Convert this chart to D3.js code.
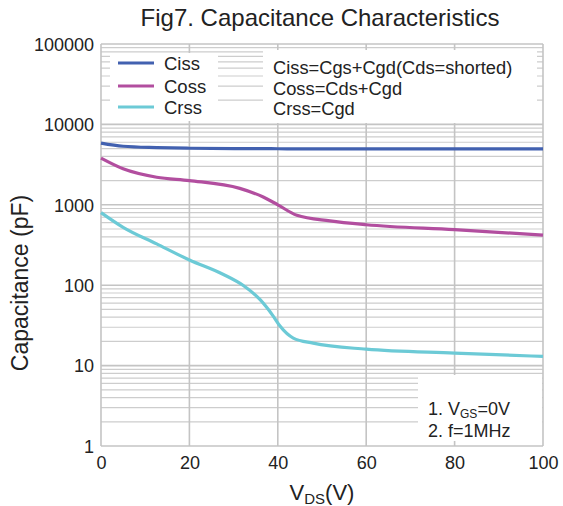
<!DOCTYPE html>
<html><head><meta charset="utf-8">
<script src="https://cdn.jsdelivr.net/npm/d3@7"></script>
<style>body{margin:0;background:#fff}svg{display:block;font-family:"Liberation Sans",Arial,sans-serif}</style>
</head><body>
<svg id="c" width="563" height="506"></svg>
<script>
const vds = [0,5,12.6,20,31.4,36.7,40,44.3,51.8,60,80,100];
const ciss = [5850,5350,5150,5050,5000,4990,4980,4970,4960,4950,4950,4950];
const coss = [3800,2800,2200,2000,1600,1250,1000,740,630,565,490,420];
const crssV = [0,5,12.6,20,27.7,32.2,36,39,40.5,43.5,48,60,80,100];
const crss = [800,525,326,206,136,99,66,41,31,22,19,16,14.3,13];
const xTicks = [0,20,40,60,80,100];
const yTicks = [1,10,100,1000,10000,100000];
const seriesNames = ["Ciss","Coss","Crss"];
const colors = ["#4261b0","#b24e9f","#6ccad6"];
const formulas = ["Ciss=Cgs+Cgd(Cds=shorted)","Coss=Cds+Cgd","Crss=Cgd"];

const svg = d3.select("#c");
const L=101,R=543,T=44,B=446;
const x = d3.scaleLinear().domain([0,100]).range([L,R]);
const y = d3.scaleLog().domain([1,100000]).range([B,T]);
const grid = svg.append("g");
for(let d=1; d<100000; d*=10){
  for(let k=2;k<=9;k++){
    grid.append("line").attr("x1",L).attr("x2",R).attr("y1",y(d*k)).attr("y2",y(d*k))
      .attr("stroke","#cdcdcd").attr("stroke-width",1.2);
  }
}
yTicks.forEach(v=>grid.append("line").attr("x1",L).attr("x2",R).attr("y1",y(v)).attr("y2",y(v))
  .attr("stroke","#c4c4c4").attr("stroke-width",1.6));
xTicks.forEach(v=>grid.append("line").attr("x1",x(v)).attr("x2",x(v)).attr("y1",T).attr("y2",B)
  .attr("stroke","#c4c4c4").attr("stroke-width",1.6));

svg.append("rect").attr("x",110).attr("y",53).attr("width",108).attr("height",68).attr("fill","#fff");
svg.append("rect").attr("x",263).attr("y",50).attr("width",274).attr("height",73).attr("fill","#fff");
svg.append("rect").attr("x",418).attr("y",375).attr("width",124).attr("height",66).attr("fill","#fff");

const line = d3.line().x(d=>x(d[0])).y(d=>y(d[1])).curve(d3.curveMonotoneX);
const data = [d3.zip(vds,ciss), d3.zip(vds,coss), d3.zip(crssV,crss)];
data.forEach((d,i)=>svg.append("path").attr("d",line(d)).attr("fill","none")
  .attr("stroke",colors[i]).attr("stroke-width",3.2));

const xa = svg.append("g").attr("transform",`translate(0,${B})`)
  .call(d3.axisBottom(x).tickValues(xTicks).tickSize(0).tickPadding(7));
const ya = svg.append("g").attr("transform",`translate(${L},0)`)
  .call(d3.axisLeft(y).tickValues(yTicks).tickFormat(d3.format("d")).tickSize(0).tickPadding(7));
[xa,ya].forEach(a=>{a.select(".domain").remove();
  a.selectAll("text").attr("font-size",18).attr("fill","#222").attr("font-family","Liberation Sans, Arial, sans-serif");});
xa.selectAll("text").attr("dy","0.9em");
ya.selectAll("text").attr("dy","0.35em");

seriesNames.forEach((n,i)=>{
  const yy = [63,86,107][i];
  svg.append("line").attr("x1",118).attr("x2",154).attr("y1",yy).attr("y2",yy)
    .attr("stroke",colors[i]).attr("stroke-width",3.2);
  svg.append("text").attr("x",164).attr("y",yy+6.5).attr("font-size",18.5).attr("fill","#222").text(n);
});
formulas.forEach((f,i)=>{
  svg.append("text").attr("x",273).attr("y",[74,95,115][i]).attr("font-size",18.3).attr("fill","#222").text(f);
});
const n1 = svg.append("text").attr("x",428).attr("y",415).attr("font-size",18).attr("fill","#222");
n1.append("tspan").text("1. V");
n1.append("tspan").attr("font-size",12).attr("dy",3).text("GS");
n1.append("tspan").attr("dy",-3).text("=0V");
svg.append("text").attr("x",428).attr("y",437).attr("font-size",18).attr("fill","#222").text("2. f=1MHz");

svg.append("text").attr("x",320).attr("y",26).attr("text-anchor","middle").attr("font-size",24).attr("fill","#222")
  .text("Fig7. Capacitance Characteristics");
const xl = svg.append("text").attr("x",322).attr("y",500).attr("text-anchor","middle").attr("font-size",22).attr("fill","#222");
xl.append("tspan").text("V");
xl.append("tspan").attr("font-size",15).attr("dy",4).text("DS");
xl.append("tspan").attr("dy",-4).text("(V)");
svg.append("text").attr("transform","translate(28,283) rotate(-90)").attr("text-anchor","middle")
  .attr("font-size",23).attr("fill","#222").text("Capacitance (pF)");
</script>
</body></html>
